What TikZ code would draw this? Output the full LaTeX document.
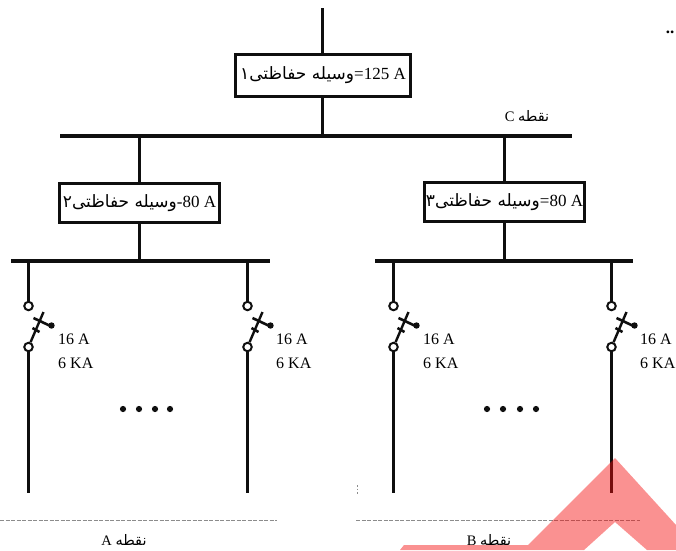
\documentclass[tikz,border=0pt]{standalone}
\usepackage{fontspec}
\setmainfont{Liberation Serif}
\newfontfamily\arabicfont[Script=Arabic]{DejaVu Sans}
\TeXXeTstate=1
\usetikzlibrary{calc}
\newcommand{\fa}[1]{{\arabicfont\beginR #1\endR}}
\definecolor{inkc}{rgb}{0.06,0.06,0.06}
\definecolor{markc}{RGB}{244,11,11}
\tikzset{
  x=1pt,y=-1pt,
  wire/.style={line width=2.6pt,inkc},
  bus/.style={line width=3.3pt,inkc},
  devbox/.style={draw=inkc,line width=3pt,fill=white,inner sep=0pt,font=\fontsize{17}{18}\selectfont},
  term/.style={circle,draw=inkc,line width=2pt,fill=white,minimum size=8.5pt,inner sep=0pt},
  rating/.style={align=left,font=\fontsize{16}{23.5}\selectfont,inner sep=0pt,anchor=north west},
  ptlabel/.style={font=\fontsize{14.5}{15}\selectfont,inner sep=0pt},
  scan/.style={black!45,line width=0.8pt,dash pattern=on 4pt off 1.5pt},
  dotn/.style={circle,fill=inkc,minimum size=6.2pt,inner sep=0pt}
}
\newcommand{\breaker}[3]{%
  \node[term] (#1t) at (#2,306) {};
  \node[term] (#1b) at (#2,347) {};
  \coordinate (#1top) at (#2,261);
  \coordinate (#1end) at (#2,493);
  \coordinate (#1m) at ($(#1b)+(15,-35)$);
  \draw[wire] (#1top) -- (#1t);
  \draw[wire] (#1b) -- (#1end);
  \draw[wire,line width=2.4pt] (#1b) -- (#1m);
  \draw[wire] ($(#1b)+(4,-19)$) -- ++(7,4);
  \draw[wire] ($(#1b)+(5,-29)$) -- ++(17,8);
  \fill[inkc] ($(#1b)+(23,-21.5)$) circle (3.2pt);
  \node[rating] (#1r) at (#3,334) {16 A\\6 KA};
}
\begin{document}
\begin{tikzpicture}
\useasboundingbox (0,0) rectangle (676,550);
% top
\coordinate (feed) at (322.5,8);
\node[devbox,minimum width=175pt,minimum height=42pt] (d1) at (323,75.5) {\fa{وسیله حفاظتی۱}=125 A};
\coordinate (busTop) at (322.5,136);
\draw[wire] (feed) -- (feed |- d1.north);
\draw[wire] (busTop |- d1.south) -- (busTop);
\draw[bus] (60,136) -- (572,136);
% second level
\node[devbox,minimum width=160pt,minimum height=39pt] (d2) at (139.5,203) {\fa{وسیله حفاظتی۲}-80 A};
\node[devbox,minimum width=160pt,minimum height=39pt] (d3) at (504.5,202) {\fa{وسیله حفاظتی۳}=80 A};
\draw[wire] (d2.north) ++(0,-46) -- (d2.north);
\draw[wire] (d3.north) ++(0,-45) -- (d3.north);
\draw[wire] (d2.south) -- ++(0,38);
\draw[wire] (d3.south) -- ++(0,39);
\draw[bus] (11,261) -- (270,261);
\draw[bus] (375,261) -- (633,261);
% feeders
\breaker{a}{28.5}{58}
\breaker{b}{247.5}{276}
\breaker{c}{393.5}{423}
\breaker{e}{611.5}{640}
% dots
\foreach \n/\x in {p1/123,p2/139,p3/155,p4/170,q1/487,q2/503,q3/520,q4/536}
  \node[dotn] (\n) at (\x,409) {};
% labels
\node[ptlabel] (lc) at (527,116) {C \fa{نقطه}};
\node[ptlabel] (la) at (124,540) {A \fa{نقطه}};
\node[ptlabel] (lb) at (489,540) {B \fa{نقطه}};
\node[font=\bfseries\fontsize{17}{17}\selectfont,inner sep=0pt] (dot) at (670,32) {..};
% scan remnants
\draw[scan] (0,520) -- (277,520);
\draw[scan] (356,520) -- (640,520);
\draw[scan,dash pattern=on 1.5pt off 2pt] (357,485) -- (357,495);
% watermark
\fill[markc,opacity=.45] (400,550) -- (404,545) -- (528,545) -- (615,458) -- (676,525) -- (676,550) -- (647,550) -- (615,522) -- (584,550) -- cycle;
\end{tikzpicture}
\end{document}
